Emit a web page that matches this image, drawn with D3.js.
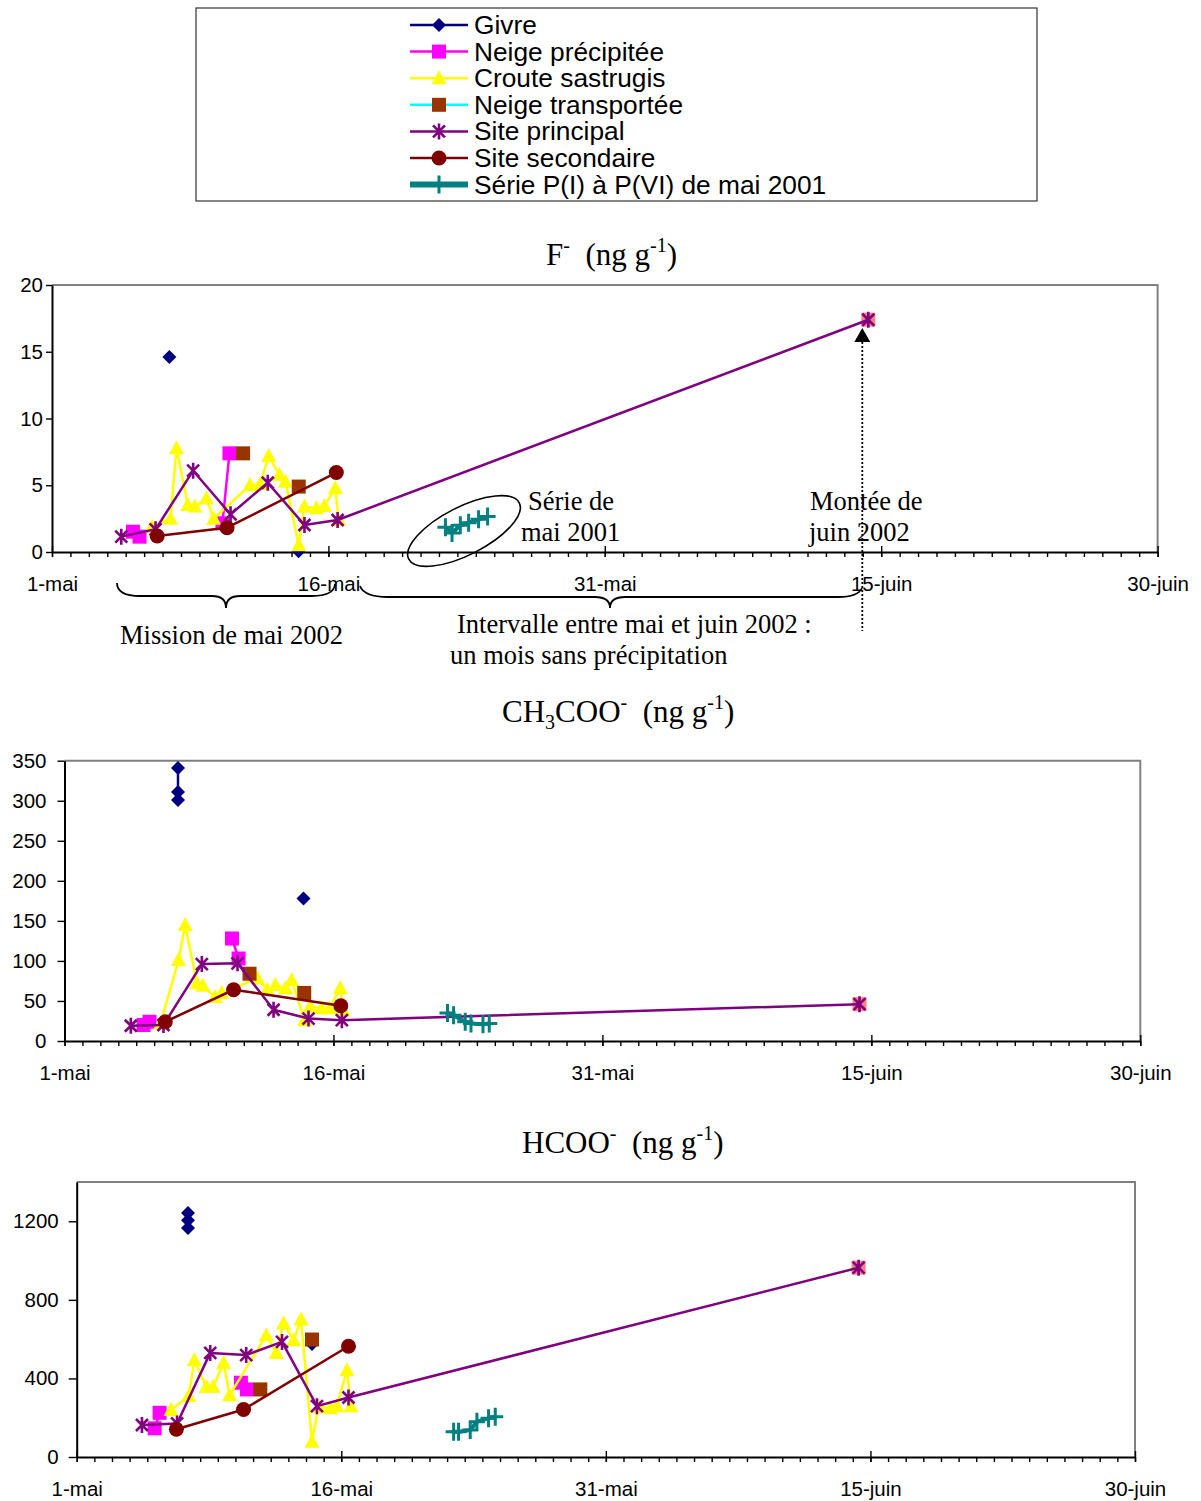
<!DOCTYPE html>
<html><head><meta charset="utf-8">
<script src="https://cdn.jsdelivr.net/npm/d3@7"></script>
<style>body{margin:0;background:#fff}</style>
</head><body>
<svg id="c" width="1201" height="1501" xmlns="http://www.w3.org/2000/svg"></svg>
<script>
// ---------- axis definitions ----------
const tickDays   = [0, 15, 30, 45, 60];
const tickLabels = ["1-mai", "16-mai", "31-mai", "15-juin", "30-juin"];
const seriesNames = ["Givre", "Neige précipitée", "Croute sastrugis", "Neige transportée",
                     "Site principal", "Site secondaire", "Série P(I) à P(VI) de mai 2001"];

// ---------- F- (ng g-1) : [day since 1-mai, value] ----------
const F_givre      = [[6.37,14.6], null, [13.38,0.05]];
const F_neigePrec  = [[4.39,1.52],[4.75,1.15], null, [9.25,2.15],[9.63,7.39]];
const F_croute     = [[5.43,1.9],[6.43,2.5],[6.76,7.77],[7.37,3.52],[7.75,3.4],[8.38,4.0],[8.78,2.5],
                      [10.75,5.0],[11.3,5.1],[11.76,7.2],[12.34,5.77],[12.67,5.27],[13.39,0.5],[13.7,3.4],
                      [14.35,3.27],[14.78,3.45],[15.38,4.77],[15.55,2.4]];
const F_neigeTransp= [[10.37,7.39], null, [13.39,4.9]];
const F_juin2002   = [[44.3,17.4]];
const F_principal  = [[3.76,1.15],[5.62,1.7],[7.66,6.09],[9.69,2.82],[11.71,5.19],[13.7,2.02],[15.5,2.4],[44.3,17.4]];
const F_secondaire = [[5.71,1.2],[9.5,1.82],[15.43,5.95]];
const F_serieP     = [[21.35,1.85],[21.71,1.42],[22.16,2.0],[22.61,2.2],[23.15,2.45],[23.64,2.65]];

// ---------- CH3COO- (ng g-1) ----------
const C_givre      = [[6.33,341],[6.33,311],[6.33,301], null, [13.33,178]];
const C_neigePrec  = [[4.41,20],[4.74,24], null, [9.34,128],[9.71,103]];
const C_croute     = [[5.36,22],[6.36,101],[6.73,145],[7.38,72],[7.72,69],[8.4,55],[8.77,60],
                      [10.77,78],[11.3,64],[11.76,70],[12.34,66],[12.67,76],[13.39,26],[13.7,43],
                      [14.35,41],[14.78,41],[15.38,66],[15.55,38]];
const C_neigeTransp= [[10.32,84], null, [13.37,60]];
const C_juin2002   = [[44.34,46]];
const C_principal  = [[3.7,19],[5.52,20],[7.66,96],[9.65,97],[11.66,39],[13.61,28],[15.47,26],[44.34,46]];
const C_secondaire = [[5.62,24],[9.43,64],[15.41,44]];
const C_serieP     = [[21.36,35],[21.7,32],[22.35,24],[22.67,22],[23.34,21],[23.69,22]];

// ---------- HCOO- (ng g-1) ----------
const H_givre      = [[6.31,1242],[6.31,1205],[6.31,1166], null, [13.34,575]];
const H_neigePrec  = [[4.42,146],[4.7,225], null, [9.31,378],[9.65,344]];
const H_croute     = [[5.35,239],[6.35,310],[6.67,493],[7.35,357],[7.73,357],[8.33,479],[8.67,315],
                      [10.75,620],[11.32,530],[11.73,680],[12.3,595],[12.72,700],[13.34,78],[13.71,256],
                      [14.38,248],[14.75,259],[15.32,442],[15.55,259]];
const H_neigeTransp= [[10.41,344], null, [13.34,598]];
const H_juin2002   = [[44.33,964]];
const H_principal  = [[3.7,163],[5.69,171],[7.57,530],[9.61,519],[11.64,586],[13.62,259],[15.41,303],[44.33,964]];
const H_secondaire = [[5.65,141],[9.46,242],[15.41,564]];
const H_serieP     = [[21.37,129],[21.65,129],[22.31,137],[22.69,180],[23.35,197],[23.73,205]];

// ---------- styles ----------
const SANS = "'Liberation Sans', Arial, sans-serif";
const SERIF = "'Liberation Serif', 'Times New Roman', serif";
const styles = {
  givre:      {line:"#000080", lw:2.5, marker:"diamond",  fill:"#000080"},
  neigePrec:  {line:"#FF00FF", lw:2.5, marker:"square",   fill:"#FF00FF"},
  croute:     {line:"#FFFF00", lw:2.5, marker:"triangle", fill:"#FFFF00"},
  neigeTransp:{line:"#00FFFF", lw:2.5, marker:"square",   fill:"#993300"},
  juin2002:   {line:"none",    lw:0,   marker:"square",   fill:"#FF8080"},
  principal:  {line:"#800080", lw:2.5, marker:"star",     fill:"#800080"},
  secondaire: {line:"#800000", lw:2.5, marker:"circle",   fill:"#800000"},
  serieP:     {line:"#008080", lw:4,   marker:"plus",     fill:"#008080"}
};
const order = ["givre","neigePrec","croute","neigeTransp","juin2002","principal","secondaire","serieP"];

const svg = d3.select("#c");

function drawMarker(sel, type, color){
  if(type==="diamond") sel.append("path").attr("d","M0,-7L7,0L0,7L-7,0Z").attr("fill",color);
  else if(type==="square") sel.append("rect").attr("x",-7).attr("y",-7).attr("width",14).attr("height",14).attr("fill",color);
  else if(type==="triangle") sel.append("path").attr("d","M0,-8L7.5,6L-7.5,6Z").attr("fill",color);
  else if(type==="star") sel.append("path").attr("d","M-6,-6L6,6M-6,6L6,-6M0,-8L0,8").attr("stroke",color).attr("stroke-width",2.6).attr("fill","none");
  else if(type==="circle") sel.append("circle").attr("r",7.5).attr("fill",color);
  else if(type==="plus") sel.append("path").attr("d","M-8,0L8,0M0,-9L0,9").attr("stroke",color).attr("stroke-width",3).attr("fill","none");
}

function chart(cfg){
  const x = d3.scaleLinear().domain([0,60]).range([cfg.x0, cfg.x1]);
  const y = d3.scaleLinear().domain([0,cfg.ymax]).range([cfg.y0, cfg.y1]);
  const g = svg.append("g");
  g.append("path").attr("d",`M${cfg.x0},${cfg.y1}H${cfg.x1}V${cfg.y0}`)
    .attr("stroke","#808080").attr("stroke-width",2).attr("fill","none");
  const ya = g.append("g").attr("transform",`translate(${cfg.x0},0)`)
    .call(d3.axisLeft(y).tickValues(cfg.yticks).tickSize(cfg.ytick).tickSizeOuter(0)
      .tickPadding(cfg.ypad).tickFormat(d3.format("d")));
  const xm = g.append("g").attr("transform",`translate(0,${cfg.y0})`)
    .call(d3.axisBottom(x).tickValues(d3.range(0,61)).tickSize(5).tickSizeOuter(0).tickFormat(""));
  xm.select(".domain").remove();
  const xa = g.append("g").attr("transform",`translate(0,${cfg.y0})`)
    .call(d3.axisBottom(x).tickValues(tickDays).tickSize(5).tickSizeOuter(0).tickFormat((d,i)=>tickLabels[i]));
  xa.selectAll(".tick line").attr("y1",-6).attr("y2",5);
  xa.selectAll(".tick text").attr("y",39).attr("dy",0);
  [ya,xm,xa].forEach(a=>{
    a.selectAll("path,line").attr("stroke","#000").attr("stroke-width",1.4);
    a.selectAll("text").attr("fill","#000").style("font-family",SANS).style("font-size","20.5px");
  });
  ya.select(".domain").attr("stroke-width",2);
  xa.select(".domain").attr("stroke-width",2);
  const line = d3.line().defined(d=>d!==null).x(d=>x(d[0])).y(d=>y(d[1]));
  order.forEach(k=>{
    const st = styles[k], data = cfg.data[k];
    if(st.line!=="none")
      g.append("path").attr("d",line(data)).attr("fill","none").attr("stroke",st.line)
        .attr("stroke-width",st.lw).attr("stroke-linejoin","round");
    data.filter(d=>d!==null).forEach(d=>{
      const m = g.append("g").attr("transform",`translate(${x(d[0])},${y(d[1])})`);
      drawMarker(m, st.marker, st.fill);
    });
  });
  return {x,y,g};
}

// ---------- legend ----------
const leg = svg.append("g");
leg.append("rect").attr("x",196).attr("y",8).attr("width",841).attr("height",193)
  .attr("fill","#fff").attr("stroke","#333").attr("stroke-width",1.2);
const legKeys = ["givre","neigePrec","croute","neigeTransp","principal","secondaire","serieP"];
legKeys.forEach((k,i)=>{
  const cy = 25 + i*26.6, st = styles[k];
  leg.append("line").attr("x1",410).attr("x2",468).attr("y1",cy).attr("y2",cy)
    .attr("stroke",st.line).attr("stroke-width",k==="serieP"?6:2.5);
  const m = leg.append("g").attr("transform",`translate(439,${cy})`);
  drawMarker(m, st.marker, st.fill);
  leg.append("text").attr("x",474).attr("y",cy+9).text(seriesNames[i])
    .style("font-family",SANS).style("font-size","26.3px").attr("fill","#000");
});

// ---------- titles ----------
function title(xp, yp, parts){
  const t = svg.append("text").attr("x",xp).attr("y",yp).style("font-family",SERIF).style("font-size","31px").attr("fill","#000")
    .attr("xml:space","preserve");
  parts.forEach(p=>{
    const s = t.append("tspan").text(p.t);
    if(p.sup){ s.attr("dy",-13).style("font-size","20px"); }
    else if(p.sub){ s.attr("dy",7).style("font-size","20px"); }
    if(p.dy!==undefined) s.attr("dy",p.dy);
  });
}
title(546, 265, [{t:"F"},{t:"-",sup:true},{t:"\u00A0 (ng g",dy:13},{t:"-1",sup:true},{t:")",dy:13}]);
title(502, 722, [{t:"CH"},{t:"3",sub:true},{t:"COO",dy:-7},{t:"-",sup:true},{t:"\u00A0 (ng g",dy:13},{t:"-1",sup:true},{t:")",dy:13}]);
title(522, 1153,[{t:"HCOO"},{t:"-",sup:true},{t:"\u00A0 (ng g",dy:13},{t:"-1",sup:true},{t:")",dy:13}]);

// ---------- charts ----------
const c1 = chart({x0:52, x1:1157.6, y0:552, y1:285, ymax:20, yticks:[0,5,10,15,20], ytick:6, ypad:3,
  data:{givre:F_givre, neigePrec:F_neigePrec, croute:F_croute, neigeTransp:F_neigeTransp, juin2002:F_juin2002,
        principal:F_principal, secondaire:F_secondaire, serieP:F_serieP}});
chart({x0:64.5, x1:1140.3, y0:1041, y1:760.7, ymax:350, yticks:[0,50,100,150,200,250,300,350], ytick:7, ypad:11,
  data:{givre:C_givre, neigePrec:C_neigePrec, croute:C_croute, neigeTransp:C_neigeTransp, juin2002:C_juin2002,
        principal:C_principal, secondaire:C_secondaire, serieP:C_serieP}});
chart({x0:76.7, x1:1135, y0:1457, y1:1182, ymax:1400, yticks:[0,400,800,1200], ytick:8, ypad:10,
  data:{givre:H_givre, neigePrec:H_neigePrec, croute:H_croute, neigeTransp:H_neigeTransp, juin2002:H_juin2002,
        principal:H_principal, secondaire:H_secondaire, serieP:H_serieP}});

// ---------- annotations on F- chart ----------
const an = svg.append("g");
const aTxt = (xp,yp,s)=>an.append("text").attr("x",xp).attr("y",yp).text(s)
  .style("font-family",SERIF).style("font-size","26.5px").attr("fill","#000");
an.append("ellipse").attr("cx",464).attr("cy",531).attr("rx",62).attr("ry",24)
  .attr("transform","rotate(-27,464,531)").attr("fill","none").attr("stroke","#000").attr("stroke-width",1.6);
aTxt(528,510,"Série de"); aTxt(521,541,"mai 2001");
aTxt(810,510,"Montée de"); aTxt(809,541,"juin 2002");
const ax = c1.x(F_juin2002[0][0]) - 6;
an.append("line").attr("x1",ax).attr("x2",ax).attr("y1",342).attr("y2",631)
  .attr("stroke","#000").attr("stroke-width",1.8).attr("stroke-dasharray","2,2");
an.append("path").attr("d",`M${ax},328L${ax+8},342L${ax-8},342Z`).attr("fill","#000");
an.append("path").attr("d","M117,583Q117,596 140,596L212,596Q226,596 226,608Q226,596 240,596L312,596Q334,596 335,584")
  .attr("fill","none").attr("stroke","#000").attr("stroke-width",1.8);
an.append("path").attr("d","M360,586Q364,597 388,597L595,597Q610,597 610,608Q610,597 625,597L838,597Q858,597 862,588")
  .attr("fill","none").attr("stroke","#000").attr("stroke-width",1.8);
aTxt(120,644,"Mission de mai 2002");
aTxt(457,633,"Intervalle entre mai et juin 2002 :");
aTxt(450,664,"un mois sans précipitation");
</script>
</body></html>
